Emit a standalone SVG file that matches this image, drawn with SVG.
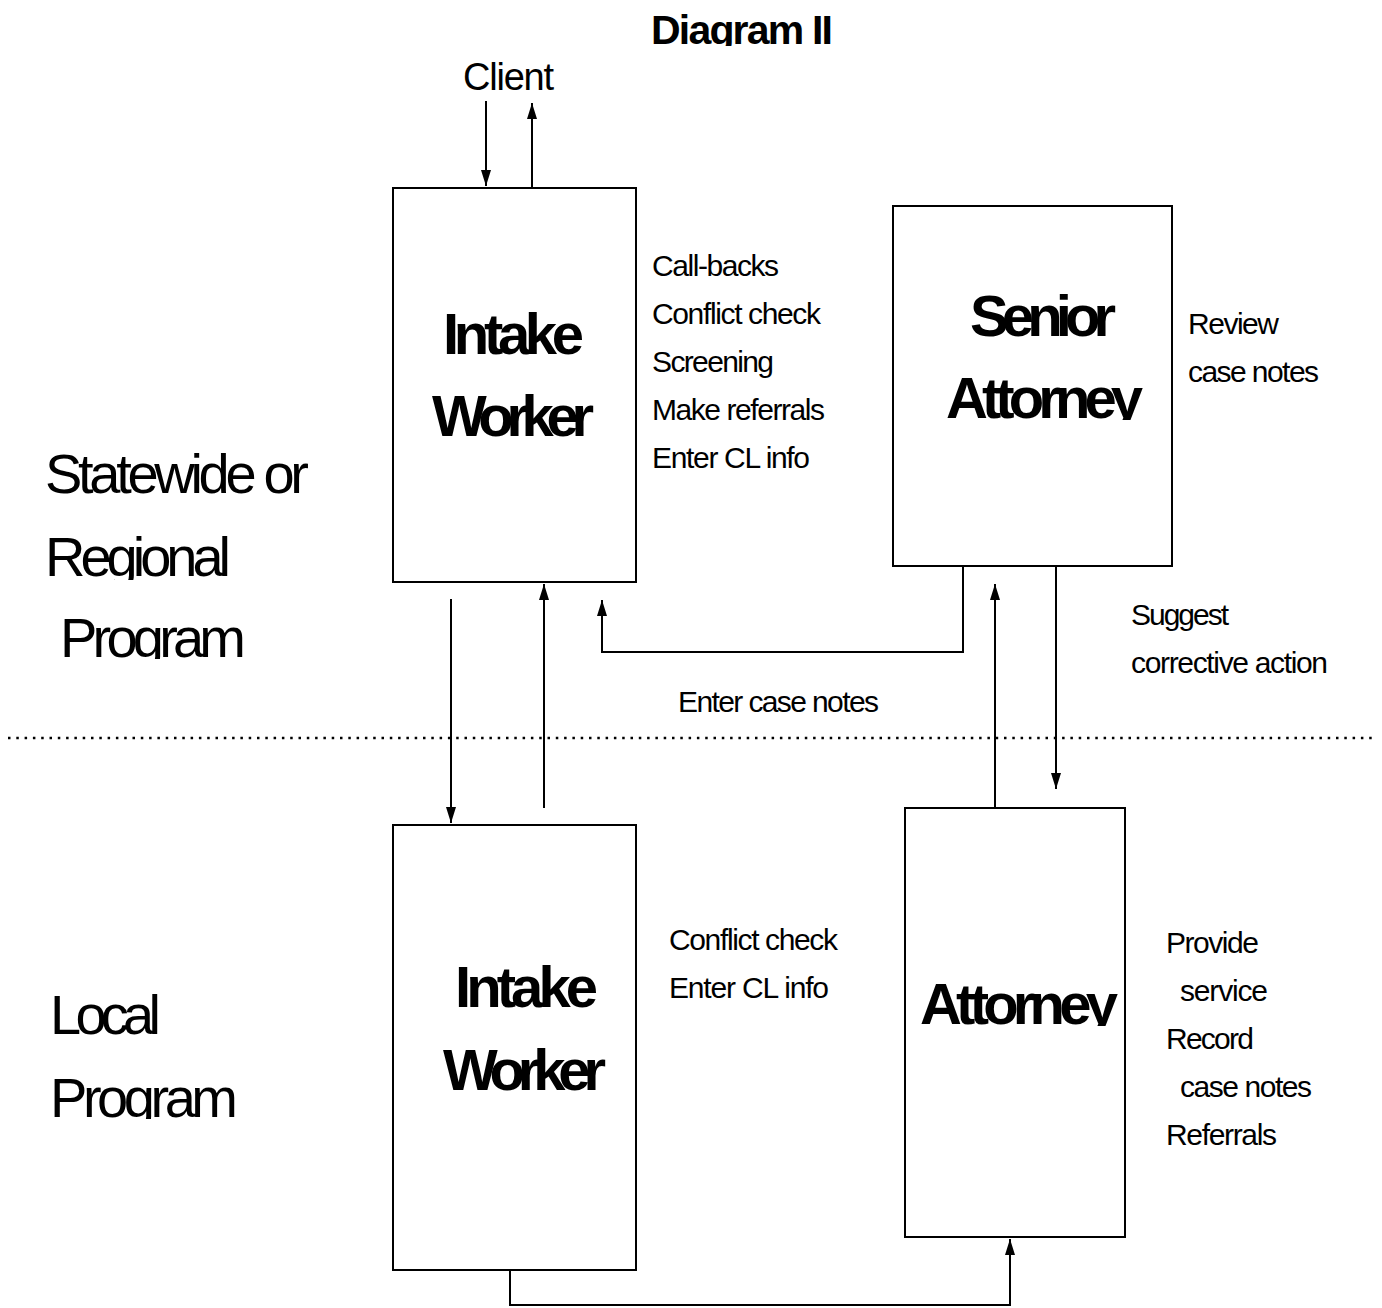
<svg xmlns="http://www.w3.org/2000/svg" width="1382" height="1308" viewBox="0 0 1382 1308">
<style>
text{font-family:"Liberation Sans",Arial,sans-serif;fill:#000}
.b{font-weight:bold;font-size:58px}
.s{font-size:30px}
.l{font-size:56px}
.box{fill:#fff;stroke:#000;stroke-width:2}
.c{fill:none;stroke:#000;stroke-width:2}
</style>
<defs>
<marker id="ah" viewBox="0 0 16 10" refX="16" refY="5" markerWidth="16" markerHeight="10" markerUnits="userSpaceOnUse" orient="auto"><path d="M0,0 L16,5 L0,10 z" fill="#000"/></marker>
<clipPath id="cT"><rect x="600" y="0" width="300" height="46"/></clipPath>
<clipPath id="cA1"><rect x="900" y="360" width="260" height="60"/></clipPath>
<clipPath id="cA2"><rect x="910" y="960" width="210" height="66"/></clipPath>
<clipPath id="cR"><rect x="30" y="520" width="260" height="60"/></clipPath>
<clipPath id="cP1"><rect x="30" y="600" width="260" height="59"/></clipPath>
<clipPath id="cP2"><rect x="30" y="1060" width="260" height="59"/></clipPath>
</defs>
<rect width="1382" height="1308" fill="#fff"/>
<g id="title"><text class="b" style="font-size:41px" x="651" y="44" textLength="182" clip-path="url(#cT)">Diagram II</text></g>
<g id="client"><text style="font-size:38px" x="463" y="90" textLength="91">Client</text></g>
<g id="labels">
<text class="l" x="45" y="493" textLength="264">Statewide or</text>
<text class="l" x="45" y="576" textLength="186" clip-path="url(#cR)">Regional</text>
<text class="l" x="60" y="657" textLength="186" clip-path="url(#cP1)">Program</text>
<text class="l" x="50" y="1034" textLength="111">Local</text>
<text class="l" x="50" y="1117" textLength="188" clip-path="url(#cP2)">Program</text>
</g>
<line x1="8" y1="738" x2="1376" y2="738" stroke="#000" stroke-width="2.5" stroke-dasharray="2.5 5.8"/>
<g id="connectors">
<line class="c" x1="486" y1="101" x2="486" y2="186" marker-end="url(#ah)"/>
<line class="c" x1="532" y1="187" x2="532" y2="103" marker-end="url(#ah)"/>
<line class="c" x1="451" y1="599" x2="451" y2="823" marker-end="url(#ah)"/>
<line class="c" x1="544" y1="808" x2="544" y2="584" marker-end="url(#ah)"/>
<polyline class="c" points="963,566 963,652 602,652 602,600" marker-end="url(#ah)"/>
<line class="c" x1="995" y1="808" x2="995" y2="584" marker-end="url(#ah)"/>
<line class="c" x1="1056" y1="566" x2="1056" y2="789" marker-end="url(#ah)"/>
<polyline class="c" points="510,1270 510,1305 1010,1305 1010,1239" marker-end="url(#ah)"/>
</g>
<g id="intake-top">
<rect class="box" x="393" y="188" width="243" height="394"/>
<text class="b" x="443" y="354" textLength="141">Intake</text>
<text class="b" x="432" y="436" textLength="162">Worker</text>
</g>
<g id="intake-top-notes">
<text class="s" x="652" y="276" textLength="127">Call-backs</text>
<text class="s" x="652" y="324" textLength="169">Conflict check</text>
<text class="s" x="652" y="372" textLength="122">Screening</text>
<text class="s" x="652" y="420" textLength="173">Make referrals</text>
<text class="s" x="652" y="468" textLength="158">Enter CL info</text>
</g>
<g id="senior-attorney">
<rect class="box" x="893" y="206" width="279" height="360"/>
<text class="b" x="970" y="336" textLength="146">Senior</text>
<text class="b" x="946" y="418" textLength="197" clip-path="url(#cA1)">Attorney</text>
</g>
<g id="senior-notes">
<text class="s" x="1188" y="334" textLength="91">Review</text>
<text class="s" x="1188" y="382" textLength="131">case notes</text>
</g>
<g id="enter-case-notes"><text class="s" x="678" y="712" textLength="201">Enter case notes</text></g>
<g id="suggest">
<text class="s" x="1131" y="625" textLength="98">Suggest</text>
<text class="s" x="1131" y="673" textLength="197">corrective action</text>
</g>
<g id="intake-bottom">
<rect class="box" x="393" y="825" width="243" height="445"/>
<text class="b" x="455" y="1007" textLength="143">Intake</text>
<text class="b" x="443" y="1090" textLength="163">Worker</text>
</g>
<g id="intake-bottom-notes">
<text class="s" x="669" y="950" textLength="169">Conflict check</text>
<text class="s" x="669" y="998" textLength="160">Enter CL info</text>
</g>
<g id="attorney">
<rect class="box" x="905" y="808" width="220" height="429"/>
<text class="b" x="920" y="1024" textLength="198" clip-path="url(#cA2)">Attorney</text>
</g>
<g id="attorney-notes">
<text class="s" x="1166" y="953" textLength="93">Provide</text>
<text class="s" x="1180" y="1001" textLength="88">service</text>
<text class="s" x="1166" y="1049" textLength="88">Record</text>
<text class="s" x="1180" y="1097" textLength="132">case notes</text>
<text class="s" x="1166" y="1145" textLength="111">Referrals</text>
</g>
</svg>
